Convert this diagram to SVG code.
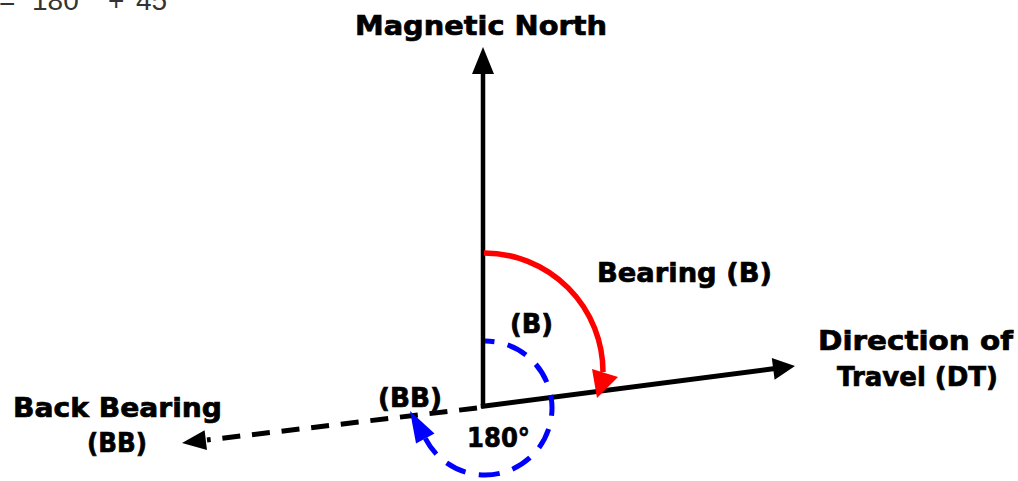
<svg xmlns="http://www.w3.org/2000/svg" width="1018" height="481" viewBox="0 0 1018 481">
  <style>
    .lbl { font-family: "DejaVu Sans", "Liberation Sans", sans-serif; font-weight: bold; font-size: 27px; fill: #000; stroke: #000; stroke-width: 0.7; }
    .top { font-family: "Liberation Sans", Arial, sans-serif; font-size: 28px; fill: #333; }
    .blk { stroke: #000; fill: none; }
    .red { stroke: #ff0000; fill: none; stroke-width: 5.5; }
    .blue { stroke: #0000ff; fill: none; stroke-width: 5; stroke-dasharray: 21 13.5; stroke-dashoffset: 11.5; }
  </style>
  <rect width="1018" height="481" fill="#fff"/>

  <g id="formula">
    <text class="top" y="9.5"><tspan x="-1">=</tspan><tspan x="32">180°</tspan><tspan x="108">+</tspan><tspan x="136">45</tspan></text>
  </g>

  <g id="connectors">
    <!-- Magnetic North -->
    <line class="blk" x1="483" y1="408" x2="483" y2="70" stroke-width="4.5"/>
    <polygon points="483,47 472,74 494,74" fill="#000"/>
    <!-- Direction of Travel -->
    <line class="blk" x1="481" y1="406.5" x2="775" y2="368.6" stroke-width="5"/>
    <polygon points="795,366 771.8,357.9 774.6,379.7" fill="#000"/>
    <!-- Back Bearing dashed -->
    <line class="blk" x1="477" y1="408" x2="207" y2="440" stroke-width="5" stroke-dasharray="18 11.8"/>
    <polygon points="182,443 204.6,430.2 207,450" fill="#000"/>
    <!-- Bearing red arc -->
    <path class="red" d="M484,253 A119,119 0 0 1 603,372"/>
    <polygon points="592,369 618,377 597,398" fill="#ff0000"/>
    <!-- Back bearing blue dashed arc -->
    <path class="blue" d="M485,341 A67,67 0 1 1 425.3,438.4"/>
    <polygon points="410,411 434.5,433.5 416,443.5" fill="#0000ff"/>
  </g>

  <g id="node-magnetic-north"><text class="lbl" x="355" y="35" textLength="252" lengthAdjust="spacingAndGlyphs">Magnetic North</text></g>
  <g id="node-bearing"><text class="lbl" x="597" y="282" textLength="175" lengthAdjust="spacingAndGlyphs">Bearing (B)</text></g>
  <g id="node-direction">
    <text class="lbl" x="818" y="350" textLength="195" lengthAdjust="spacingAndGlyphs">Direction of</text>
    <text class="lbl" x="837" y="386" textLength="161" lengthAdjust="spacingAndGlyphs">Travel (DT)</text>
  </g>
  <g id="node-back-bearing">
    <text class="lbl" x="13" y="417" textLength="209" lengthAdjust="spacingAndGlyphs">Back Bearing</text>
    <text class="lbl" x="87" y="452" textLength="60" lengthAdjust="spacingAndGlyphs">(BB)</text>
  </g>
  <g id="node-b-angle"><text class="lbl" x="510" y="333" textLength="43" lengthAdjust="spacingAndGlyphs">(B)</text></g>
  <g id="node-bb-angle"><text class="lbl" x="378" y="407" textLength="64" lengthAdjust="spacingAndGlyphs">(BB)</text></g>
  <g id="node-180"><text class="lbl" x="467" y="447" textLength="63" lengthAdjust="spacingAndGlyphs">180°</text></g>
</svg>
